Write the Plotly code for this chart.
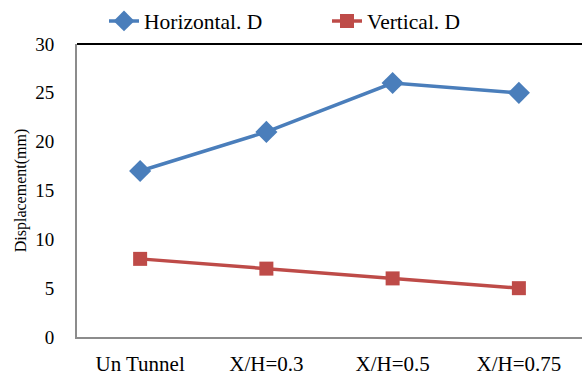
import plotly.graph_objects as go

categories = ["Un Tunnel", "X/H=0.3", "X/H=0.5", "X/H=0.75"]
horizontal_d = [17, 21, 26, 25]
vertical_d = [8, 7, 6, 5]
y_ticks = [0, 5, 10, 15, 20, 25, 30]

FONT = "Times New Roman"

fig = go.Figure()
fig.add_trace(go.Scatter(
    x=categories, y=horizontal_d, name="Horizontal. D", mode="lines+markers",
    line=dict(color="#4A7EBB", width=3.5),
    marker=dict(symbol="diamond", size=17, color="#4A7EBB"),
))
fig.add_trace(go.Scatter(
    x=categories, y=vertical_d, name="Vertical. D", mode="lines+markers",
    line=dict(color="#BE4B48", width=3.5),
    marker=dict(symbol="square", size=14, color="#BE4B48"),
))

L, R, T, B = 77, 0, 44, 36
W, H = 582, 376
pw = W - L - R

fig.update_layout(
    width=W, height=H,
    margin=dict(l=L, r=R, t=T, b=B),
    paper_bgcolor="white", plot_bgcolor="white",
    font=dict(family=FONT, color="black", size=20),
    showlegend=True,
    legend=dict(orientation="h", x=(104 - L) / pw, xanchor="left",
                y=1.0 + 44 / (H - T - B), yanchor="top",
                font=dict(size=21.5, family=FONT), itemwidth=30,
                entrywidth=178, entrywidthmode="pixels",
                tracegroupgap=0, bgcolor="rgba(0,0,0,0)"),
    xaxis=dict(type="category", range=[-0.5, 3.5], showgrid=False,
               showline=True, linecolor="#8C8C8C", linewidth=2,
               ticks="", tickfont=dict(size=21, family=FONT), ticklabelstandoff=7,
               fixedrange=True),
    yaxis=dict(range=[0, 30], tickvals=y_ticks, showgrid=False, zeroline=False,
               showline=True, linecolor="#8C8C8C", linewidth=2,
               ticks="", tickfont=dict(size=19, family=FONT), ticklabelstandoff=17,
               title=dict(text="Displacement(mm)", font=dict(size=16, family=FONT),
                          standoff=5),
               fixedrange=True),
)
fig.add_shape(type="line", xref="paper", yref="paper", x0=0, x1=1, y0=1, y1=1,
              line=dict(color="black", width=2))

fig.write_html("out.html")
